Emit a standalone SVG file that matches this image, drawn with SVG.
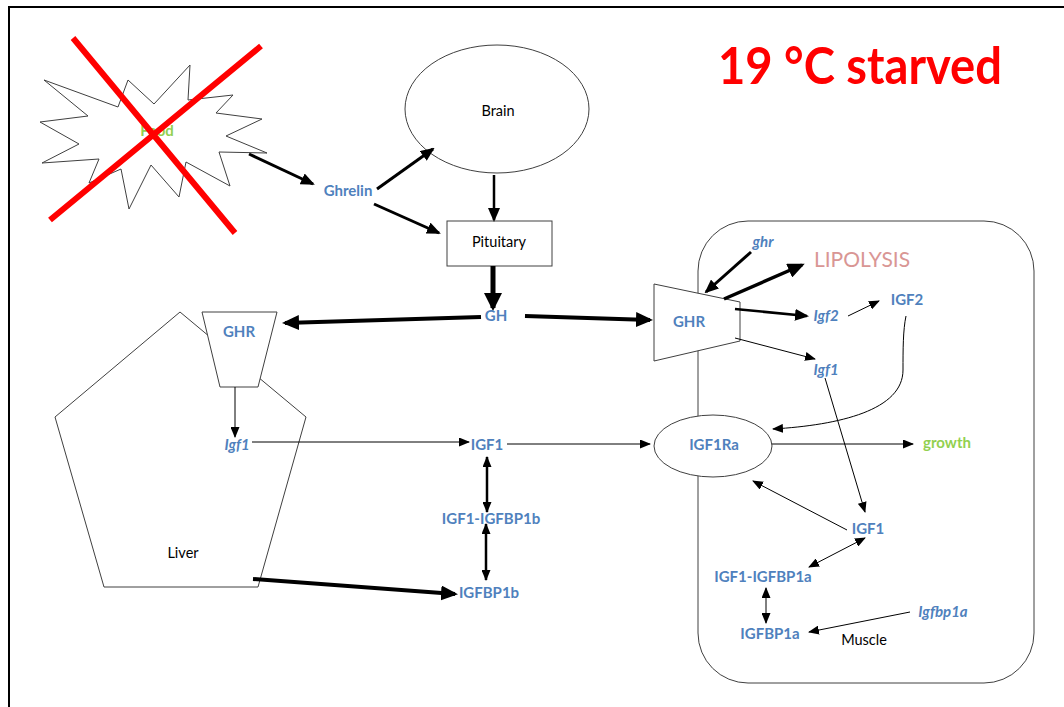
<svg xmlns="http://www.w3.org/2000/svg" width="1064" height="707" viewBox="0 0 1064 707">
<defs>
<style>
.shape{fill:#fff;stroke:#404040;stroke-width:1}
.c{fill:none;stroke:#000}
.lb{font-family:Lato,"Liberation Sans",sans-serif;font-weight:bold;font-size:15px;fill:#4F81BD;text-anchor:middle}
.it{font-style:italic}
.bk{font-family:Lato,"Liberation Sans",sans-serif;font-size:14.5px;fill:#000;text-anchor:middle}
.gr{fill:#92D050}
</style>
<marker id="a1" markerUnits="userSpaceOnUse" markerWidth="11" markerHeight="9" refX="10" refY="4.5" orient="auto-start-reverse"><path d="M0,0 L11,4.5 L0,9 z" fill="#000"/></marker>
<marker id="a3" markerUnits="userSpaceOnUse" markerWidth="14" markerHeight="12" refX="12" refY="6" orient="auto-start-reverse"><path d="M0,0 L14,6 L0,12 z" fill="#000"/></marker>
<marker id="a4" markerUnits="userSpaceOnUse" markerWidth="17" markerHeight="15" refX="14" refY="7.5" orient="auto-start-reverse"><path d="M0,0 L17,7.5 L0,15 z" fill="#000"/></marker>
<marker id="a5" markerUnits="userSpaceOnUse" markerWidth="18" markerHeight="18" refX="15" refY="9" orient="auto-start-reverse"><path d="M0,0 L18,9 L0,18 z" fill="#000"/></marker>
</defs>
<rect width="1064" height="707" fill="#fff"/>
<path d="M9,707 V7 H1064" fill="none" stroke="#000" stroke-width="2"/>

<g id="muscle"><rect x="698" y="221" width="336" height="462" rx="50" ry="50" class="shape"/></g>

<g id="food">
<polygon class="shape" points="44,80 118,107 128,80 154,104 190,65 188,100 233,95 216,113 262,119 226,136 267,153 219,152 230,186 186,162 179,197 151,165 129,209 121,169 89,183 99,159 42,163 79,144 40,122 88,116"/>
<text x="157" y="136" class="lb gr">Food</text>
<path d="M73,38 L235,233 M261,46 L50,220" stroke="#FF0000" stroke-width="6" fill="none"/>
</g>

<g id="brain"><ellipse cx="497" cy="109" rx="92" ry="64" class="shape"/><text x="498" y="116" class="bk">Brain</text></g>
<g id="pituitary"><rect x="447" y="221" width="105" height="45" class="shape"/><text x="499" y="247" class="bk">Pituitary</text></g>

<g id="liver">
<polygon class="shape" points="180,312 306,417 258,587 104,587 55,417"/>
<text x="183" y="558" class="bk">Liver</text>
</g>
<g id="liver-ghr">
<polygon class="shape" points="202,312 277,312 258,387 220,387"/>
<text x="239" y="337" class="lb">GHR</text>
</g>

<g id="muscle-ghr">
<polygon class="shape" points="654,284 740,302 740,341 654,361"/>
<text x="689" y="327" class="lb">GHR</text>
</g>
<g id="igf1ra">
<ellipse cx="713" cy="446" rx="59" ry="31" class="shape"/>
<text x="714" y="450" class="lb">IGF1Ra</text>
</g>

<g id="connectors">
<line x1="249" y1="154" x2="313" y2="184" class="c" stroke-width="3" marker-end="url(#a3)"/>
<line x1="377" y1="189" x2="433" y2="149" class="c" stroke-width="3" marker-end="url(#a3)"/>
<line x1="374" y1="204" x2="439" y2="233" class="c" stroke-width="3" marker-end="url(#a3)"/>
<line x1="494" y1="175" x2="494" y2="220" class="c" stroke-width="2.5" marker-end="url(#a3)"/>
<line x1="493" y1="266" x2="493" y2="308" class="c" stroke-width="5" marker-end="url(#a5)"/>
<line x1="481" y1="317" x2="285" y2="323" class="c" stroke-width="4" marker-end="url(#a4)"/>
<line x1="525" y1="316" x2="650" y2="320" class="c" stroke-width="4" marker-end="url(#a4)"/>
<line x1="235" y1="387" x2="235" y2="437" class="c" stroke-width="1" marker-end="url(#a1)"/>
<line x1="252" y1="442" x2="469" y2="442" class="c" stroke-width="1" marker-end="url(#a1)"/>
<line x1="507" y1="444" x2="650" y2="444" class="c" stroke-width="1" marker-end="url(#a1)"/>
<line x1="487" y1="457" x2="487" y2="512" class="c" stroke-width="2.5" marker-start="url(#a1)" marker-end="url(#a1)"/>
<line x1="486" y1="524" x2="486" y2="580" class="c" stroke-width="2.5" marker-start="url(#a1)" marker-end="url(#a1)"/>
<line x1="253" y1="579" x2="455" y2="594" class="c" stroke-width="4" marker-end="url(#a4)"/>
<line x1="751" y1="252" x2="706" y2="292" class="c" stroke-width="3" marker-end="url(#a3)"/>
<line x1="724" y1="299" x2="802" y2="265" class="c" stroke-width="3.5" marker-end="url(#a4)"/>
<line x1="735" y1="309" x2="807" y2="316" class="c" stroke-width="2.5" marker-end="url(#a3)"/>
<line x1="848" y1="316" x2="879" y2="301" class="c" stroke-width="1" marker-end="url(#a1)"/>
<line x1="735" y1="338" x2="815" y2="359" class="c" stroke-width="1" marker-end="url(#a1)"/>
<path d="M906,316 C903,330 903,350 903,370 C903,410 840,425 773,429" class="c" stroke-width="1" marker-end="url(#a1)"/>
<line x1="772" y1="444" x2="913" y2="444" class="c" stroke-width="1" marker-end="url(#a1)"/>
<line x1="825" y1="378" x2="865" y2="512" class="c" stroke-width="1" marker-end="url(#a1)"/>
<line x1="847" y1="530" x2="753" y2="481" class="c" stroke-width="1" marker-end="url(#a1)"/>
<line x1="865" y1="538" x2="809" y2="567" class="c" stroke-width="1" marker-start="url(#a1)" marker-end="url(#a1)"/>
<line x1="766" y1="588" x2="766" y2="623" class="c" stroke-width="1" marker-start="url(#a1)" marker-end="url(#a1)"/>
<line x1="910" y1="612" x2="809" y2="632" class="c" stroke-width="1" marker-end="url(#a1)"/>
</g>

<g id="labels">
<text x="348" y="196" class="lb">Ghrelin</text>
<text x="496" y="321" class="lb">GH</text>
<text x="237" y="450" class="lb it">Igf1</text>
<text x="487" y="450" class="lb">IGF1</text>
<text x="491" y="524" class="lb">IGF1-IGFBP1b</text>
<text x="489" y="598" class="lb">IGFBP1b</text>
<text x="763" y="247" class="lb it">ghr</text>
<text x="862" y="267" font-family="Lato,'Liberation Sans',sans-serif" font-size="21" fill="#D99694" text-anchor="middle">LIPOLYSIS</text>
<text x="826" y="321" class="lb it">Igf2</text>
<text x="907" y="305" class="lb">IGF2</text>
<text x="826" y="375" class="lb it">Igf1</text>
<text x="947" y="448" class="lb gr">growth</text>
<text x="868" y="534" class="lb">IGF1</text>
<text x="763" y="582" class="lb">IGF1-IGFBP1a</text>
<text x="770" y="639" class="lb">IGFBP1a</text>
<text x="943" y="617" class="lb it">Igfbp1a</text>
<text x="864" y="645" class="bk">Muscle</text>
</g>

<g id="title"><text x="718" y="84" font-family="Lato,'Liberation Sans',sans-serif" font-weight="bold" font-size="52" fill="#FF0000" textLength="284" lengthAdjust="spacingAndGlyphs">19 °C starved</text></g>
</svg>
